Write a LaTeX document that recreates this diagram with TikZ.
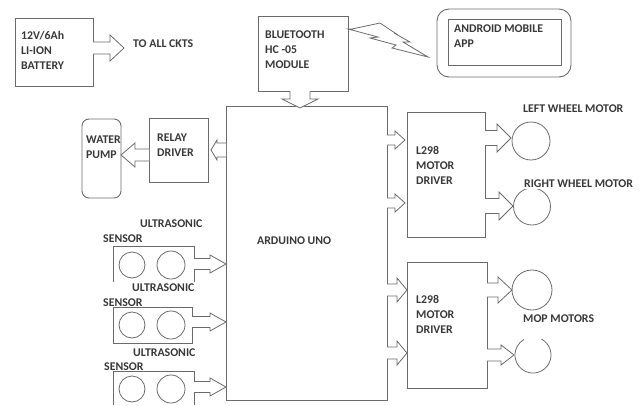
\documentclass[tikz,border=0pt]{standalone}
\usepackage{fontspec}
\setmainfont{Carlito}
\usetikzlibrary{positioning,arrows.meta,calc}
\definecolor{wire}{gray}{0.42}
\definecolor{ink}{gray}{0.22}
\tikzset{
  blockbox/.style={draw=wire, line width=0.9pt, fill=none, rectangle, inner sep=0pt, outer sep=0pt},
  lbl/.style={font=\fontsize{11.8}{15}\selectfont\bfseries, text=ink, anchor=west, align=left, inner sep=0pt},
  motor/.style={draw=wire, line width=0.8pt, circle, inner sep=0pt, outer sep=0pt},
  % shaft half width, head half width, head length
  blockarrow/.style n args={3}{draw=wire, line width=0.8pt, fill=white, to path={
    ($(\tikztostart)!#1!90:(\tikztotarget)$)
    -- ($(\tikztotarget)!#3!(\tikztostart)!#1!-90:(\tikztostart)$)
    -- ($(\tikztotarget)!#3!(\tikztostart)!#2!-90:(\tikztostart)$)
    -- (\tikztotarget)
    -- ($(\tikztotarget)!#3!(\tikztostart)!#2!90:(\tikztostart)$)
    -- ($(\tikztotarget)!#3!(\tikztostart)!#1!90:(\tikztostart)$)
    -- ($(\tikztostart)!#1!-90:(\tikztotarget)$)}},
  smallarrow/.style={blockarrow={5pt}{9pt}{10pt}},
  wheelarrow/.style={blockarrow={7.5pt}{14pt}{14pt}},
  sensorarrow/.style={blockarrow={5.5pt}{9pt}{16pt}}
}
\begin{document}
\begin{tikzpicture}[x=1pt,y=-1pt]
\useasboundingbox (0,0) rectangle (641,405);
% top row
\node[blockbox, minimum width=78pt, minimum height=68pt] (battery) at (54,52) {};
\node[lbl] (batterytext) at (21,50) {12V/6Ah\\LI-ION\\BATTERY};
\node[lbl] (allckts) at (133,44) {TO ALL CKTS};
\node[blockbox, minimum width=90pt, minimum height=75pt] (bluetooth) at (303,53.5) {};
\node[lbl] (bluetoothtext) at (265,50) {BLUETOOTH\\HC -05\\MODULE};
\node[blockbox, rounded corners=12pt, minimum width=134pt, minimum height=68pt] (phone) at (504,43) {};
\node[blockbox, minimum width=113pt, minimum height=46pt] (screen) at (504.5,42) {};
\node[lbl] (screentext) at (454,36.5) {ANDROID MOBILE\\APP};
% wireless link, bluetooth to phone
\draw[wire, line width=0.8pt] (bluetooth.east |- 0,29) -- ++(4,0) -- (380,23) -- (398,35) -- (394,33)
  -- (410,42) -- (403,42) -- (428,57) -- (392,48) -- (396,45) -- (370,38) -- (378,37) -- cycle;
% centre
\node[blockbox, minimum width=161pt, minimum height=294pt] (arduino) at (306.5,253) {};
\node[lbl] (arduinotext) at (257,241) {ARDUINO UNO};
\node[blockbox, minimum width=59pt, minimum height=64pt] (relay) at (178.5,150) {};
\node[lbl] (relaytext) at (157,145.5) {RELAY\\DRIVER};
\node[blockbox, rounded corners=7pt, minimum width=39pt, minimum height=79pt] (pump) at (101.5,158.5) {};
\node[lbl] (pumptext) at (86,147.5) {WATER\\PUMP};
% motor drivers
\node[blockbox, minimum width=78pt, minimum height=125pt] (driverA) at (446,174.5) {};
\node[lbl] (driverAtext) at (416,165) {L298\\MOTOR\\DRIVER};
\node[blockbox, minimum width=80pt, minimum height=126pt] (driverB) at (447,325) {};
\node[lbl] (driverBtext) at (416,314.5) {L298\\MOTOR\\DRIVER};
% motors
\node[motor, minimum size=38pt] (wheelL) at (531,141) {};
\node[motor, minimum size=37pt] (wheelR) at (532,206.5) {};
\node[motor, minimum size=40pt] (mopA) at (532,290) {};
\coordinate (mopB) at (533,355);
\draw[wire, line width=0.8pt] (mopB) ++(-62:18) arc (-62:240:18);
\node[lbl] (wheelLtext) at (523,109) {LEFT WHEEL MOTOR};
\node[lbl, fill=white, inner ysep=1pt] (wheelRtext) at (524,184) {RIGHT WHEEL MOTOR};
\node[lbl] (moptext) at (523,319) {MOP MOTORS};
% sensors, boxes left open where the labels run over them
\draw[wire, line width=0.8pt] (113,282) -- (113,246) -- (194,246) -- (194,282);
\draw[wire, line width=0.8pt] (113,343) rectangle (192,307);
\draw[wire, line width=0.8pt] (113,405) -- (113,371) -- (194,371) -- (194,405);
\foreach \name/\y in {one/265,two/325,three/389}{
  \node[motor, minimum size=26pt] (echo\name) at (132,\y) {};
  \node[motor, minimum size=28pt] (trig\name) at (171,\y) {};
}
\node[lbl] (ultraA) at (140,224) {ULTRASONIC};
\node[lbl] (sensorA) at (103,239) {SENSOR};
\node[lbl] (ultraB) at (132,288) {ULTRASONIC};
\node[lbl] (sensorB) at (103,303) {SENSOR};
\node[lbl] (ultraC) at (133,353) {ULTRASONIC};
\node[lbl] (sensorC) at (104,367) {SENSOR};
% block arrows
\coordinate (allin) at (124,48);
\draw[blockarrow={6pt}{13pt}{14pt}] (battery.east |- allin) to (allin);
\draw[blockarrow={10pt}{18pt}{9pt}] (bluetooth.south -| 300,0) to (300,108);
\draw[blockarrow={7pt}{10pt}{6pt}] (arduino.west |- 0,150) to (211,150);
\draw[blockarrow={6pt}{12pt}{14pt}] (relay.west |- 0,155) to (pump.east |- 0,155);
\foreach \y in {140,203}{\draw[smallarrow] (arduino.east |- 0,\y) to (405,\y);}
\foreach \y in {290,353}{\draw[blockarrow={6pt}{12pt}{10pt}] (arduino.east |- 0,\y) to (407,\y);}
\draw[wheelarrow] (driverA.east |- 0,138) to (511,138);
\draw[wheelarrow] (driverA.east |- 0,206) to (513,206);
\draw[blockarrow={7pt}{13pt}{14pt}] (driverB.east |- 0,290) to (mopA.west |- 0,290);
\draw[blockarrow={6pt}{10pt}{13pt}] (driverB.east |- 0,355) to (514,355);
\draw[sensorarrow] (194,264) to (arduino.west |- 0,264);
\draw[sensorarrow] (192,322) to (arduino.west |- 0,322);
\draw[sensorarrow] (194,387) to (arduino.west |- 0,387);
\end{tikzpicture}
\end{document}
